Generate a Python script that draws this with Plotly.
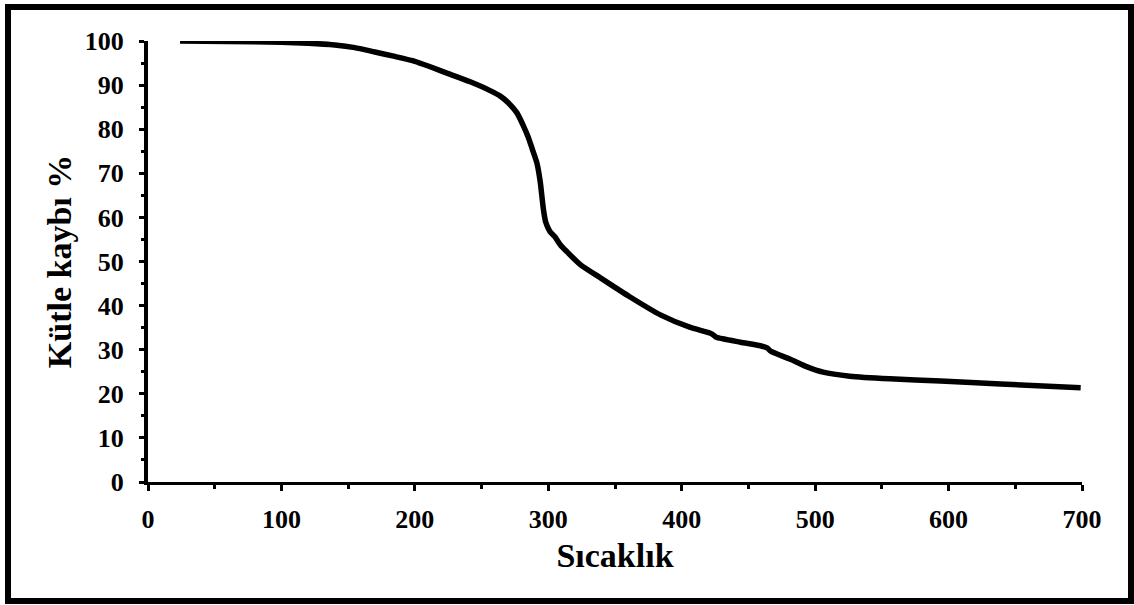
import plotly.graph_objects as go

# Thermogravimetric curve: temperature (°C) vs remaining mass (%)
temperature = [24, 60, 100, 120, 140, 155, 170, 185, 200, 212, 225, 241, 256, 264, 270, 276.5,
               281, 285, 288, 291.5, 294, 295.5, 296.5, 298, 300, 302, 305, 309, 314,
               324, 339, 361, 384, 406, 421, 424, 426, 444, 459, 464, 467, 481, 494,
               506, 526, 556, 594, 639, 699]
mass = [100, 99.9, 99.7, 99.5, 99.1, 98.5, 97.5, 96.5, 95.4, 94.1, 92.6, 90.8, 88.8, 87.5, 86, 83.7,
        81, 78.2, 75.5, 72.3, 68, 64, 61.5, 59, 57.5, 56.5, 55.6, 53.8, 52.2,
        49.3, 46.3, 42, 37.9, 35.1, 33.8, 33.3, 32.8, 31.7, 30.9, 30.4, 29.6, 27.9, 26.1,
        24.9, 24, 23.4, 22.9, 22.2, 21.4]

x_title = "Sıcaklık"
y_title = "Kütle kaybı %"

W, H = 1134, 605
L, R, T, B = 148, 52, 41, 123
FONT = "Liberation Serif"

fig = go.Figure(go.Scatter(
    x=temperature, y=mass, mode="lines",
    line=dict(color="black", width=5.5, shape="spline", smoothing=0.6),
    hoverinfo="skip",
))

# frame around the whole figure, in paper units
pw, ph = W - L - R, H - T - B
def px_to_paper_x(p):
    return (p - L) / pw
def px_to_paper_y(p):
    return (H - B - p) / ph

fig.add_shape(type="rect", xref="paper", yref="paper",
              x0=px_to_paper_x(8), x1=px_to_paper_x(1131),
              y0=px_to_paper_y(601), y1=px_to_paper_y(7),
              line=dict(color="black", width=6), fillcolor="rgba(0,0,0,0)",
              layer="below")

tick_font = dict(family=FONT, size=26, color="black")
title_font = dict(family=FONT, size=34, color="black")

fig.update_layout(
    width=W, height=H,
    margin=dict(l=L, r=R, t=T, b=B),
    paper_bgcolor="white", plot_bgcolor="white",
    showlegend=False,
    font=dict(family=FONT, color="black"),
    xaxis=dict(
        range=[0, 700], dtick=100, tick0=0,
        showgrid=False, zeroline=False,
        showline=True, linecolor="black", linewidth=3,
        ticks="outside", ticklen=6, tickwidth=3, tickcolor="black",
        minor=dict(dtick=50, ticks="outside", ticklen=4, tickwidth=3, tickcolor="black", showgrid=False),
        tickfont=tick_font, ticklabelstandoff=6,
        title=dict(text="<b>" + x_title + "</b>", font=title_font, standoff=10),
    ),
    yaxis=dict(
        range=[0, 100], dtick=10, tick0=0,
        showgrid=False, zeroline=False,
        showline=True, linecolor="black", linewidth=4,
        ticks="outside", ticklen=5, tickwidth=3, tickcolor="black",
        minor=dict(dtick=5, ticks="outside", ticklen=3, tickwidth=3, tickcolor="black", showgrid=False),
        tickfont=tick_font, ticklabelstandoff=10,
        title=dict(text="<b>" + y_title + "</b>", font=title_font, standoff=4),
    ),
)
fig.update_xaxes(tickprefix="<b>", ticksuffix="</b>")
fig.update_yaxes(tickprefix="<b>", ticksuffix="</b>")

fig.write_html("out.html")
